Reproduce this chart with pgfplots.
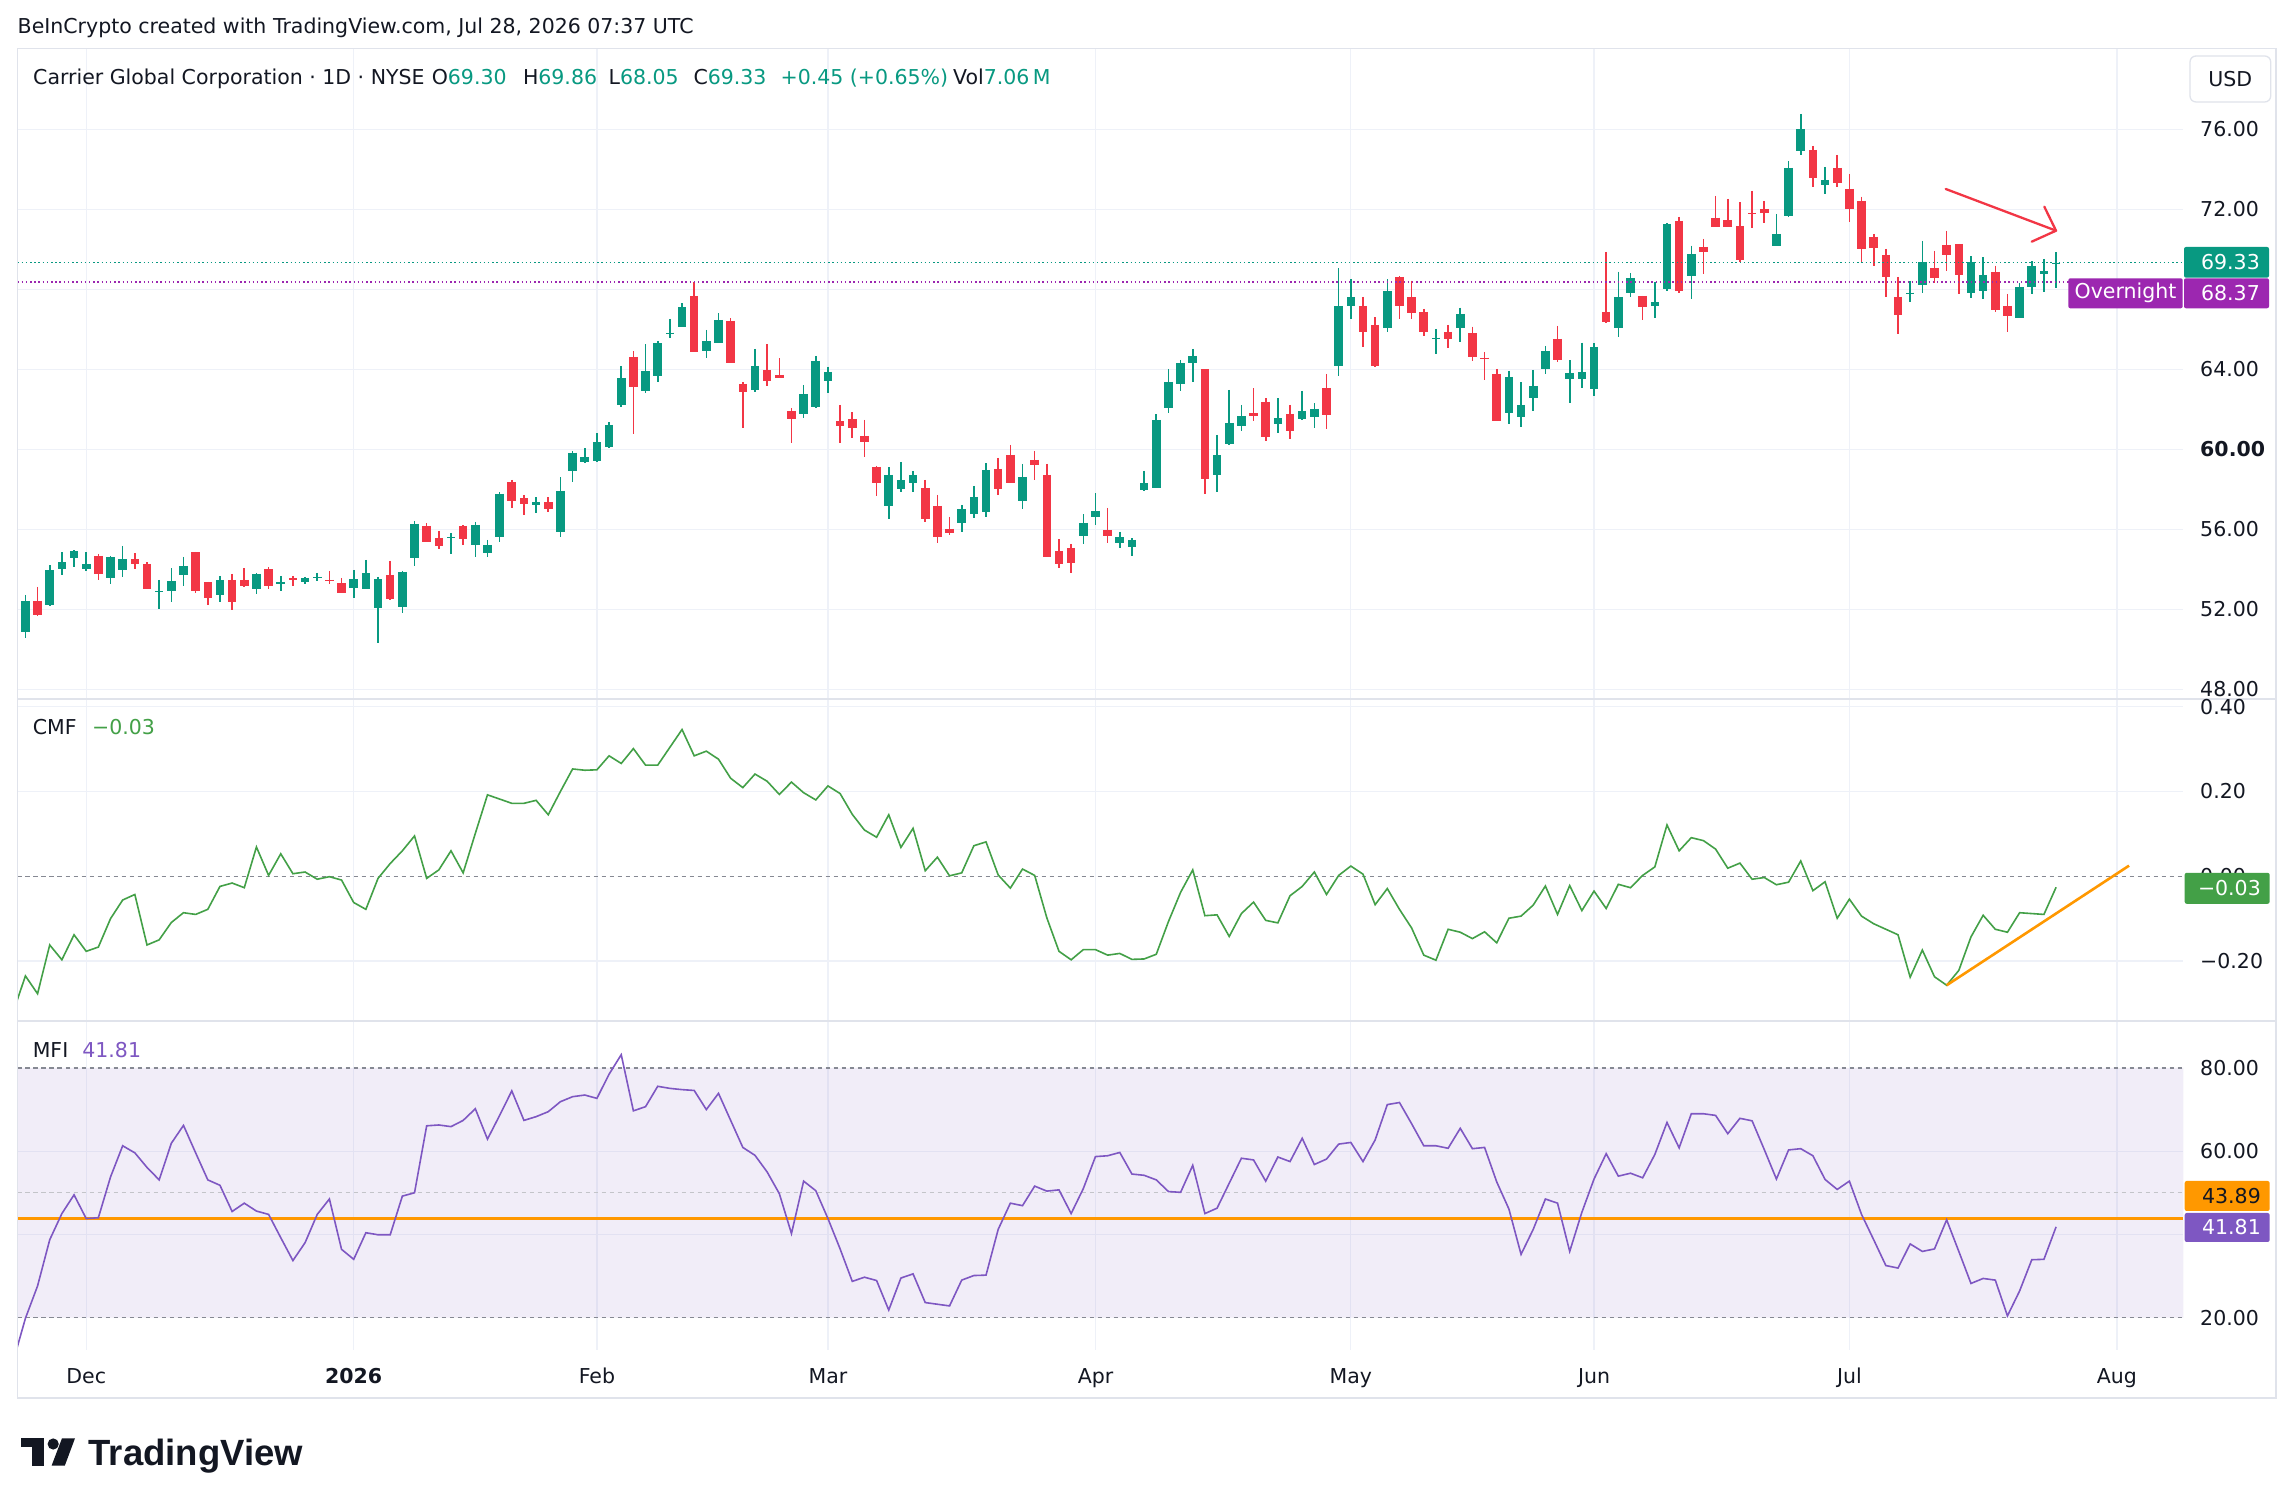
\documentclass[border=0pt]{standalone}
\usepackage{pgfplots}
\pgfplotsset{compat=1.18}
\usepackage{pgfplotstable}
\usepackage{fontspec}
\setmainfont{DejaVu Sans}
\newfontfamily\lib{Liberation Sans}
\definecolor{upc}{RGB}{8,153,129}
\definecolor{dnc}{RGB}{242,54,69}
\definecolor{cmfc}{RGB}{67,160,71}
\definecolor{mfic}{RGB}{126,87,194}
\definecolor{orangec}{RGB}{255,152,0}
\definecolor{gridc}{RGB}{238,241,248}
\definecolor{dashc}{RGB}{134,137,147}
\definecolor{textc}{RGB}{19,23,34}
\definecolor{framec}{RGB}{224,227,235}
\definecolor{ovc}{RGB}{156,39,176}
\newcommand{\fs}{\fontsize{20.5}{24}\selectfont}

\pgfplotstableread{
i o h l c
0 50.88 52.72 50.58 52.42
2 52.22 54.21 52.17 53.97
3 54.01 54.85 53.72 54.35
4 54.58 54.95 54.13 54.92
5 54.01 54.85 53.93 54.27
7 53.57 54.67 53.25 54.62
8 53.97 55.17 53.63 54.50
11 52.85 53.47 52.02 52.90
12 52.93 54.05 52.38 53.41
13 53.73 54.62 53.18 54.17
16 52.72 53.67 52.38 53.47
19 53.02 53.83 52.77 53.77
21 53.25 53.67 52.92 53.37
23 53.37 53.63 53.25 53.58
24 53.58 53.83 53.43 53.63
27 53.08 53.97 52.58 53.50
28 53.02 54.47 53.02 53.80
29 52.08 53.63 50.30 53.50
31 52.13 53.92 51.80 53.88
32 54.55 56.42 54.18 56.27
35 55.55 55.83 54.75 55.63
37 55.22 56.37 54.63 56.22
38 54.83 55.47 54.63 55.22
39 55.60 57.85 55.38 57.77
42 57.22 57.60 56.83 57.35
44 55.88 58.60 55.63 57.93
45 58.93 59.90 58.38 59.83
46 59.38 60.05 59.30 59.63
47 59.43 60.80 59.38 60.35
48 60.13 61.35 60.05 61.22
49 62.22 64.17 62.10 63.57
51 62.93 65.25 62.80 63.90
52 63.68 65.42 63.35 65.30
53 65.78 66.52 65.55 65.83
54 66.13 67.30 66.13 67.12
56 64.93 65.97 64.55 65.42
57 65.33 66.80 65.33 66.47
60 62.97 65.02 62.85 64.17
64 61.75 63.22 61.55 62.77
65 62.13 64.67 62.05 64.42
66 63.43 64.13 62.80 63.87
71 57.17 59.10 56.50 58.72
72 58.03 59.37 57.88 58.47
73 58.30 58.92 57.88 58.72
77 56.33 57.22 55.88 57.02
78 56.78 58.17 56.58 57.62
79 56.88 59.30 56.60 58.97
82 57.43 59.27 57.00 58.62
87 55.68 56.75 55.27 56.32
88 56.63 57.80 56.22 56.92
90 55.33 55.88 55.08 55.60
91 55.13 55.55 54.68 55.47
92 57.97 58.92 57.93 58.30
93 58.08 61.75 58.08 61.47
94 62.08 64.02 61.80 63.37
95 63.28 64.47 62.93 64.30
96 64.30 65.02 63.38 64.67
98 58.72 60.72 57.88 59.70
99 60.27 62.97 60.22 61.32
100 61.18 62.22 60.93 61.65
103 61.28 62.55 60.80 61.55
105 61.52 62.92 61.47 61.92
106 61.63 62.30 61.08 62.02
108 64.18 69.05 63.68 67.17
109 67.18 68.52 66.53 67.62
112 66.08 68.50 65.88 67.92
116 65.52 66.02 64.77 65.58
118 66.05 67.08 65.38 66.77
122 61.83 63.92 61.28 63.62
123 61.63 63.35 61.13 62.22
124 62.58 63.97 61.93 63.17
125 64.03 65.17 63.75 64.92
127 63.50 64.45 62.33 63.82
128 63.50 65.33 63.08 63.87
129 63.03 65.30 62.68 65.12
131 66.08 68.88 65.63 67.62
132 67.83 68.82 67.63 68.57
134 67.18 68.37 66.58 67.35
135 68.02 71.30 67.93 71.27
137 68.68 70.18 67.52 69.77
144 70.18 71.77 70.18 70.77
145 71.67 74.42 71.63 74.07
146 74.92 76.77 74.70 76.02
148 73.23 74.12 72.78 73.47
155 67.78 68.42 67.37 67.83
156 68.23 70.42 67.83 69.37
160 67.83 69.65 67.58 69.37
161 67.93 69.60 67.53 68.72
164 66.58 68.30 66.58 68.12
165 68.13 69.40 67.78 69.17
166 68.77 69.52 67.88 68.92
167 69.30 69.86 68.05 69.33
}\up

\pgfplotstableread{
i o h l c
1 52.42 53.13 51.67 51.72
6 54.67 54.77 53.47 53.77
9 54.50 54.80 54.03 54.27
10 54.27 54.35 53.00 53.02
14 54.85 54.87 52.83 52.93
15 53.35 53.37 52.22 52.58
17 53.47 53.77 51.97 52.38
18 53.47 54.05 53.13 53.18
20 54.01 54.10 53.00 53.18
22 53.55 53.67 53.18 53.47
25 53.48 53.92 53.25 53.43
26 53.30 53.55 52.83 52.83
30 53.72 54.42 52.47 52.52
33 56.17 56.30 55.38 55.38
34 55.58 55.92 55.02 55.18
36 56.17 56.20 55.22 55.52
40 58.35 58.47 57.08 57.43
41 57.55 57.72 56.72 57.27
43 57.35 57.60 56.88 57.02
50 64.62 64.92 60.75 63.10
55 67.67 68.35 64.88 64.88
58 66.42 66.55 64.30 64.33
59 63.27 63.35 61.05 62.88
61 63.97 65.25 63.18 63.43
62 63.72 64.55 63.55 63.55
63 61.92 62.05 60.30 61.50
67 61.40 62.22 60.30 61.17
68 61.52 61.85 60.55 61.08
69 60.67 61.47 59.63 60.38
70 59.12 59.17 57.67 58.33
74 58.07 58.47 56.38 56.50
75 57.17 57.72 55.30 55.63
76 56.02 56.63 55.72 55.83
80 59.02 59.57 57.72 58.03
81 59.72 60.22 58.30 58.30
83 59.47 59.92 58.47 59.22
84 58.72 59.27 54.63 54.63
85 54.92 55.50 54.08 54.25
86 55.07 55.27 53.80 54.33
89 55.97 57.08 55.33 55.68
97 64.00 64.00 57.75 58.53
101 61.80 63.05 61.43 61.67
102 62.37 62.55 60.43 60.63
104 61.77 62.22 60.53 60.93
107 63.07 63.77 61.03 61.72
110 67.17 67.62 65.13 65.88
111 66.22 66.60 64.13 64.17
113 68.62 68.65 66.50 67.17
114 67.60 68.43 66.53 66.83
115 66.87 67.02 65.68 65.88
117 65.87 66.22 65.05 65.53
119 65.80 66.13 64.43 64.63
120 64.58 64.87 63.47 64.52
121 63.77 64.02 61.43 61.43
126 65.52 66.17 64.37 64.47
130 66.87 69.87 66.33 66.37
133 67.67 67.67 66.47 67.13
136 71.42 71.62 67.83 67.92
138 70.12 70.52 68.78 69.88
139 71.58 72.67 71.13 71.13
140 71.47 72.52 71.13 71.13
141 71.17 72.35 69.38 69.47
142 71.82 72.92 71.05 71.77
143 72.02 72.42 71.30 71.83
147 74.97 75.17 73.13 73.58
149 74.07 74.72 73.13 73.33
150 73.02 73.77 71.38 72.03
151 72.42 72.63 69.38 70.03
152 70.62 70.77 69.18 70.08
153 69.72 70.02 67.63 68.63
154 67.62 68.62 65.77 66.72
157 69.07 69.92 68.33 68.57
158 70.22 70.92 68.92 69.73
159 70.27 70.27 67.78 68.73
162 68.87 69.18 66.88 66.97
163 67.17 67.77 65.88 66.68
}\dn

\pgfplotsset{tvpanel/.style={scale only axis, width=2165.8pt, anchor=south west,
  xmin=-0.65, xmax=177.46, axis line style={draw=none},
  xtick={5,27,47,66,88,109,129,150,172}, xticklabels={,,,,,,,,,,}, yticklabels={,,,,,,,,,,},
  major tick length=0pt, tick style={draw=none},
  grid=major, major grid style={draw=gridc, line width=1.3pt}},
  candle/.style 2 args={draw=none, mark=none, forget plot,
  /pgfplots/error bars/y dir=minus, /pgfplots/error bars/y explicit,
  /pgfplots/error bars/error mark=none,
  /pgfplots/error bars/error bar style={draw=#1, line width=#2, line cap=butt}}}

\begin{document}
\begin{tikzpicture}
\begin{scope}[x=1pt,y=1pt]
\useasboundingbox (0,0) rectangle (2294,1507);
\fill[white] (0,0) rectangle (2294,1507);
\end{scope}

% ---------- main price panel ----------
\begin{axis}[tvpanel, at={(17.5pt,808pt)}, height=650.5pt,
  ymin=47.52, ymax=80.04, ytick={48,52,...,76}]
\addplot[candle={upc}{1.6pt}]
  table[x=i, y=h, y error minus expr=\thisrow{h}-\thisrow{l}] {\up};
\addplot[candle={upc}{8.6pt}]
  table[x=i, y=c, y error minus expr=\thisrow{c}-\thisrow{o}] {\up};
\addplot[candle={dnc}{1.6pt}]
  table[x=i, y=h, y error minus expr=\thisrow{h}-\thisrow{l}] {\dn};
\addplot[candle={dnc}{8.6pt}]
  table[x=i, y=o, y error minus expr=\thisrow{o}-\thisrow{c}] {\dn};
\addplot[upc, line width=1.3pt, dash pattern=on 1.5pt off 2.7pt] coordinates {(-0.65,69.33) (177.46,69.33)};
\addplot[ovc, line width=1.3pt, dash pattern=on 1.5pt off 2.7pt] coordinates {(-0.65,68.37) (177.46,68.37)};
\end{axis}

% ---------- CMF panel ----------
\begin{axis}[tvpanel, at={(17.5pt,486pt)}, height=322pt,
  ymin=-0.3413, ymax=0.418, ytick={-0.2,0.2,0.4}]
\addplot[dashc, line width=1.3pt, dash pattern=on 4.5pt off 3.5pt] coordinates {(-0.65,0) (177.46,0)};
\addplot[cmfc, line width=1.6pt] coordinates {
(-1,-0.32) (0,-0.235) (1,-0.277) (2,-0.162) (3,-0.197) (4,-0.138) (5,-0.177) (6,-0.167) (7,-0.100) (8,-0.056) (9,-0.043)
(10,-0.162) (11,-0.150) (12,-0.109) (13,-0.086) (14,-0.090) (15,-0.078) (16,-0.024) (17,-0.016) (18,-0.027) (19,0.069)
(20,0.002) (21,0.053) (22,0.006) (23,0.010) (24,-0.007) (25,-0.001) (26,-0.009) (27,-0.062) (28,-0.078) (29,-0.005)
(30,0.030) (31,0.060) (32,0.095) (33,-0.005) (34,0.015) (35,0.060) (36,0.008) (37,0.101) (38,0.192) (39,0.182)
(40,0.172) (41,0.172) (42,0.179) (43,0.145) (44,0.200) (45,0.253) (46,0.250) (47,0.251) (48,0.284) (49,0.266)
(50,0.301) (51,0.262) (52,0.262) (53,0.304) (54,0.346) (55,0.284) (56,0.295) (57,0.276) (58,0.231) (59,0.209)
(60,0.241) (61,0.224) (62,0.193) (63,0.222) (64,0.197) (65,0.180) (66,0.213) (67,0.195) (68,0.146) (69,0.109)
(70,0.092) (71,0.145) (72,0.068) (73,0.113) (74,0.013) (75,0.045) (76,0.001) (77,0.008) (78,0.072) (79,0.081)
(80,0.003) (81,-0.028) (82,0.017) (83,0.002) (84,-0.098) (85,-0.177) (86,-0.197) (87,-0.173) (88,-0.173) (89,-0.186)
(90,-0.182) (91,-0.196) (92,-0.195) (93,-0.184) (94,-0.107) (95,-0.038) (96,0.015) (97,-0.093) (98,-0.091) (99,-0.142)
(100,-0.088) (101,-0.061) (102,-0.104) (103,-0.110) (104,-0.046) (105,-0.024) (106,0.010) (107,-0.043) (108,0.002) (109,0.024)
(110,0.005) (111,-0.067) (112,-0.029) (113,-0.078) (114,-0.122) (115,-0.186) (116,-0.198) (117,-0.125) (118,-0.132) (119,-0.147)
(120,-0.131) (121,-0.157) (122,-0.099) (123,-0.094) (124,-0.068) (125,-0.023) (126,-0.090) (127,-0.022) (128,-0.081) (129,-0.035)
(130,-0.076) (131,-0.019) (132,-0.027) (133,0.002) (134,0.022) (135,0.121) (136,0.060) (137,0.091) (138,0.084) (139,0.064)
(140,0.019) (141,0.031) (142,-0.007) (143,-0.003) (144,-0.020) (145,-0.014) (146,0.036) (147,-0.034) (148,-0.013) (149,-0.099)
(150,-0.054) (151,-0.094) (152,-0.112) (153,-0.125) (154,-0.138) (155,-0.238) (156,-0.174) (157,-0.237) (158,-0.257) (159,-0.222)
(160,-0.143) (161,-0.092) (162,-0.125) (163,-0.132) (164,-0.086) (165,-0.088) (166,-0.090) (167,-0.026)};
\addplot[orangec, line width=2.6pt] coordinates {(158,-0.257) (173,0.025)};
\end{axis}

% ---------- MFI panel ----------
\begin{axis}[tvpanel, at={(17.5pt,157pt)}, height=329pt,
  ymin=12.2, ymax=91.3, ytick={40,60}]
\addplot[draw=none, fill=mfic, fill opacity=0.1] coordinates {(-0.65,20) (177.46,20) (177.46,80) (-0.65,80) (-0.65,20)};
\addplot[dashc, line width=1.3pt, dash pattern=on 4.5pt off 3.5pt] coordinates {(-0.65,80) (177.46,80)};
\addplot[dashc, line width=1.3pt, dash pattern=on 4.5pt off 3.5pt] coordinates {(-0.65,20) (177.46,20)};
\addplot[dashc!50, line width=1.3pt, dash pattern=on 4.5pt off 3.5pt] coordinates {(-0.65,50) (177.46,50)};
\addplot[orangec, line width=2.8pt] coordinates {(-0.65,43.89) (177.46,43.89)};
\addplot[mfic, line width=1.6pt] coordinates {
(-1,9.5) (0,19.8) (1,27.6) (2,38.7) (3,45.0) (4,49.5) (5,43.8) (6,44.0) (7,53.8) (8,61.3) (9,59.6)
(10,56.1) (11,53.1) (12,61.9) (13,66.2) (14,59.6) (15,53.1) (16,51.8) (17,45.5) (18,47.5) (19,45.6)
(20,44.8) (21,39.2) (22,33.7) (23,38.0) (24,44.8) (25,48.5) (26,36.4) (27,34.0) (28,40.4) (29,39.9)
(30,39.9) (31,49.2) (32,50.0) (33,66.1) (34,66.3) (35,65.9) (36,67.4) (37,70.2) (38,62.9) (39,68.6)
(40,74.5) (41,67.4) (42,68.3) (43,69.5) (44,71.9) (45,73.1) (46,73.5) (47,72.7) (48,78.5) (49,83.2)
(50,69.7) (51,70.7) (52,75.6) (53,75.1) (54,74.8) (55,74.6) (56,70.0) (57,73.9) (58,67.4) (59,60.9)
(60,59.0) (61,55.0) (62,49.8) (63,40.2) (64,52.8) (65,50.5) (66,43.8) (67,36.5) (68,28.7) (69,29.7)
(70,28.9) (71,21.8) (72,29.5) (73,30.5) (74,23.6) (75,23.2) (76,22.8) (77,29.0) (78,30.1) (79,30.2)
(80,41.2) (81,47.5) (82,46.9) (83,51.6) (84,50.4) (85,50.7) (86,45.0) (87,51.0) (88,58.7) (89,58.9)
(90,59.7) (91,54.5) (92,54.2) (93,53.1) (94,50.3) (95,50.1) (96,56.6) (97,45.0) (98,46.3) (99,52.3)
(100,58.3) (101,57.9) (102,52.8) (103,58.6) (104,57.5) (105,63.1) (106,56.8) (107,58.1) (108,61.7) (109,62.1)
(110,57.5) (111,62.7) (112,71.2) (113,71.7) (114,66.6) (115,61.3) (116,61.3) (117,60.7) (118,65.5) (119,60.6)
(120,60.9) (121,52.6) (122,46.1) (123,35.2) (124,41.2) (125,48.5) (126,47.5) (127,35.9) (128,45.3) (129,53.3)
(130,59.4) (131,54.0) (132,54.7) (133,53.6) (134,59.2) (135,66.9) (136,60.8) (137,69.0) (138,69.0) (139,68.6)
(140,64.2) (141,67.9) (142,67.3) (143,60.4) (144,53.3) (145,60.3) (146,60.6) (147,58.9) (148,53.2) (149,50.8)
(150,52.8) (151,44.8) (152,38.7) (153,32.5) (154,31.9) (155,37.7) (156,35.9) (157,36.5) (158,43.5) (159,35.9)
(160,28.2) (161,29.4) (162,29.0) (163,20.4) (164,26.4) (165,33.9) (166,34.0) (167,41.81)};
\end{axis}

\begin{scope}[x=1pt,y=1pt]
% ---------- frame and separators ----------
\draw[framec, line width=1.5pt] (17.5,109) rectangle (2276,1458.5);
\draw[framec, line width=1.5pt] (17.5,808) -- (2276,808);
\draw[framec, line width=1.5pt] (17.5,486) -- (2276,486);

% ---------- annotation arrow ----------
\draw[dnc, line width=2.3pt, line cap=round, line join=round] (1945.7,1318) -- (2056,1276.3);
\draw[dnc, line width=2.3pt, line cap=round, line join=round] (2044.3,1300.3) -- (2056,1276.3) -- (2031.7,1265.3);

% ---------- texts ----------
\begin{scope}[every node/.style={font=\fs, text=textc, inner sep=0pt}]
\node[anchor=base west] at (17.5,1473) {BeInCrypto created with TradingView.com, Jul 28, 2026 07:37 UTC};
\node[anchor=base west] at (33,1422) {Carrier Global Corporation · 1D · NYSE};
\node[anchor=base west] at (431.6,1422) {O\textcolor{upc}{69.30}};
\node[anchor=base west] at (522.8,1422) {H\textcolor{upc}{69.86}};
\node[anchor=base west] at (608.4,1422) {L\textcolor{upc}{68.05}};
\node[anchor=base west] at (693.3,1422) {C\textcolor{upc}{69.33}};
\node[anchor=base west] at (780.4,1422) {\textcolor{upc}{+0.45 (+0.65\%)}};
\node[anchor=base west] at (953,1422) {Vol\textcolor{upc}{7.06\,M}};
\node[anchor=base west] at (32.6,772) {CMF};
\node[anchor=base west] at (91.9,772) {\textcolor{cmfc}{−0.03}};
\node[anchor=base west] at (32.6,449) {MFI};
\node[anchor=base west] at (82.2,449) {\textcolor{mfic}{41.81}};
% USD box
\draw[framec, line width=1.3pt, fill=white, rounded corners=6pt] (2190,1405) rectangle (2270.7,1451);
\node at (2230.3,1428) {USD};
% price scale
\node[anchor=west] at (2200,1377.7) {76.00};
\node[anchor=west] at (2200,1297.7) {72.00};
\node[anchor=west] at (2200,1137.7) {64.00};
\node[anchor=west] at (2200,1057.7) {\bfseries 60.00};
\node[anchor=west] at (2200,977.7) {56.00};
\node[anchor=west] at (2200,897.7) {52.00};
\node[anchor=west] at (2200,817.7) {48.00};
\node[anchor=west] at (2200,800.3) {0.40};
\node[anchor=west] at (2200,715.5) {0.20};
\node[anchor=west] at (2200,630.7) {0.00};
\node[anchor=west] at (2200,545.9) {−0.20};
\node[anchor=west] at (2200,438.8) {80.00};
\node[anchor=west] at (2200,355.7) {60.00};
\node[anchor=west] at (2200,189.4) {20.00};
% time axis
\node[anchor=base] at (86.2,123.5) {Dec};
\node[anchor=base] at (353.7,123.5) {\bfseries 2026};
\node[anchor=base] at (596.9,123.5) {Feb};
\node[anchor=base] at (828,123.5) {Mar};
\node[anchor=base] at (1095.5,123.5) {Apr};
\node[anchor=base] at (1350.8,123.5) {May};
\node[anchor=base] at (1594,123.5) {Jun};
\node[anchor=base] at (1849.4,123.5) {Jul};
\node[anchor=base] at (2116.9,123.5) {Aug};
\end{scope}

% ---------- label boxes ----------
\fill[upc, rounded corners=2pt] (2184,1229.3) rectangle (2269,1260);
\node[anchor=east, font=\fs, text=white, inner sep=0pt] at (2260,1244.6) {69.33};
\fill[ovc, rounded corners=2pt] (2184,1198.7) rectangle (2269,1228.7);
\node[anchor=east, font=\fs, text=white, inner sep=0pt] at (2260,1213.7) {68.37};
\fill[ovc, rounded corners=2pt] (2068.3,1198.7) rectangle (2182.7,1228.7);
\node[font=\fs, text=white, inner sep=0pt] at (2125.5,1213.7) {Overnight};
\fill[cmfc, rounded corners=2pt] (2184.7,603.2) rectangle (2269.6,634.2);
\node[anchor=east, font=\fs, text=white, inner sep=0pt] at (2261,618.7) {−0.03};
\fill[orangec, rounded corners=2pt] (2184.7,296) rectangle (2269.6,326);
\node[anchor=east, font=\fs, text=textc, inner sep=0pt] at (2261,311) {43.89};
\fill[mfic, rounded corners=2pt] (2184.7,265) rectangle (2269.6,294);
\node[anchor=east, font=\fs, text=white, inner sep=0pt] at (2261,279.5) {41.81};

% ---------- TradingView logo ----------
\fill[textc] (21.4,59.7) rectangle (43.8,68.7);
\fill[textc] (32.1,41.3) rectangle (43.8,68.7);
\fill[textc] (53.2,63) circle (5.6);
\fill[textc] (62,68.7) -- (75,68.7) -- (64.8,41.3) -- (51.6,41.3) -- cycle;
\node[anchor=base west, inner sep=0pt, text=textc, font=\lib\bfseries\fontsize{36.5}{40}\selectfont] at (88.4,41.3) {TradingView};
\end{scope}
\end{tikzpicture}
\end{document}
